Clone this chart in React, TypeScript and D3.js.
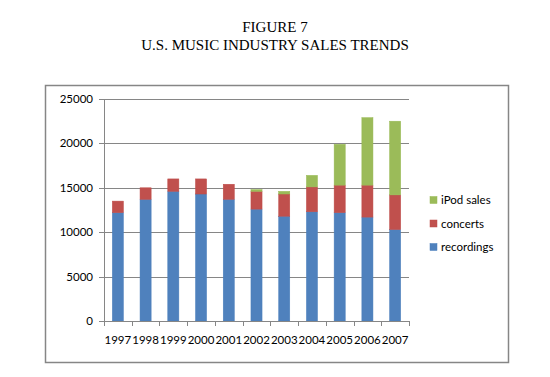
import React from "react";
import * as d3 from "d3";

const years = ["1997","1998","1999","2000","2001","2002","2003","2004","2005","2006","2007"];
const recordings = [12200, 13700, 14600, 14300, 13700, 12600, 11800, 12300, 12200, 11700, 10300];
const concerts = [1300, 1300, 1400, 1700, 1700, 2000, 2500, 2800, 3100, 3600, 3900];
const ipod = [0, 0, 0, 0, 0, 200, 300, 1300, 4600, 7600, 8300];
const yTicks = [0, 5000, 10000, 15000, 20000, 25000];
const seriesNames = ["recordings", "concerts", "iPod sales"];
const colors = ["#4F81BD", "#C0504D", "#9BBB59"];
const edgeColors = ["#4A7EBB", "#BE4B48", "#98B954"];

export default function App() {
  const W = 550, H = 377;
  const left = 104, right = 409, top = 99, bottom = 321;
  const x = d3.scaleBand().domain(years).range([left, right]).paddingInner(0.6).paddingOuter(0.3);
  const band = (right - left) / years.length;
  const y = d3.scaleLinear().domain([0, 25000]).range([bottom, top]);
  const rows = years.map((yr, i) => ({ yr, recordings: recordings[i], concerts: concerts[i], ipod: ipod[i] }));
  const stack = d3.stack<any>().keys(["recordings", "concerts", "ipod"])(rows);
  const bw = band / 2.5;
  const font = "Lato, 'Open Sans', sans-serif";
  const legendY = [247, 223.5, 200];

  return (
    <svg width={W} height={H} style={{ position: "absolute", left: 0, top: 0, background: "#fff" }}>
      <text x={275} y={32} textAnchor="middle" fontFamily="'Liberation Serif', 'Times New Roman', serif" fontSize={15}>FIGURE 7</text>
      <text x={275} y={49.5} textAnchor="middle" fontFamily="'Liberation Serif', 'Times New Roman', serif" fontSize={15}>U.S. MUSIC INDUSTRY SALES TRENDS</text>
      <rect x={45.5} y={85.5} width={463} height={277} fill="none" stroke="#868686" strokeWidth={1.5} />
      {yTicks.map(t => (
        <g key={t}>
          {t > 0 && <line x1={left} x2={right} y1={Math.round(y(t)) + 0.5} y2={Math.round(y(t)) + 0.5} stroke="#868686" strokeWidth={1} />}
          <line x1={left - 5} x2={left} y1={Math.round(y(t)) + 0.5} y2={Math.round(y(t)) + 0.5} stroke="#868686" />
          <text x={93} y={y(t)} dy="0.35em" textAnchor="end" fontFamily={font} fontSize={11.5}>{t}</text>
        </g>
      ))}
      {stack.map((s, si) => (
        <g key={si}>
          {s.map((d, i) => {
            const cx = left + band * (i + 0.5);
            const h = y(d[0]) - y(d[1]);
            if (h <= 0) return null;
            return <rect key={i} x={cx - bw / 2} y={y(d[1])} width={bw} height={h} fill={colors[si]} stroke={edgeColors[si]} strokeWidth={0.5} />;
          })}
        </g>
      ))}
      <line x1={left + 0.5} x2={left + 0.5} y1={top} y2={bottom + 5} stroke="#868686" />
      <line x1={left} x2={right} y1={bottom + 0.5} y2={bottom + 0.5} stroke="#868686" />
      {d3.range(years.length + 1).map(i => (
        <line key={i} x1={Math.round(left + band * i) + 0.5} x2={Math.round(left + band * i) + 0.5} y1={bottom} y2={bottom + 5} stroke="#868686" />
      ))}
      {years.map((yr, i) => (
        <text key={yr} x={left + band * (i + 0.5)} y={340} dy="0.35em" textAnchor="middle" fontFamily={font} fontSize={11.5}>{yr}</text>
      ))}
      {seriesNames.map((n, i) => (
        <g key={n}>
          <rect x={430} y={legendY[i] - 3.5} width={7} height={7} fill={colors[i]} stroke={edgeColors[i]} strokeWidth={0.5} />
          <text x={441} y={legendY[i]} dy="0.35em" fontFamily={font} fontSize={11.5}>{n}</text>
        </g>
      ))}
    </svg>
  );
}
